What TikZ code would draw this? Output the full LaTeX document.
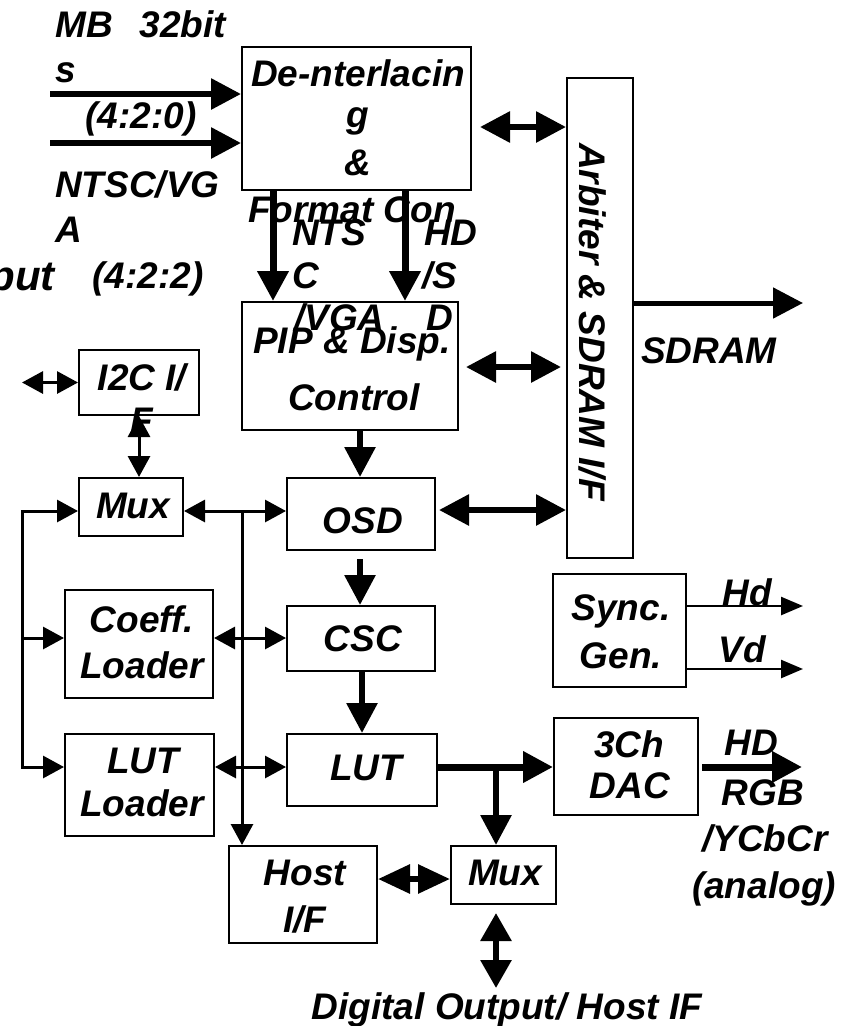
\documentclass[tikz,border=0pt]{standalone}
\usepackage{fontspec}
\setmainfont{Liberation Sans}
\usetikzlibrary{arrows.meta}
\begin{document}
\begin{tikzpicture}[x=1pt,y=-1pt,
  box/.style={draw,line width=2pt,inner sep=0pt},
  txt/.style={font=\fontsize{37}{44}\selectfont\bfseries\itshape,inner sep=0pt,anchor=base},
  big/.style={line width=6pt,-{Triangle[length=30pt,width=30pt]}},
  bigd/.style={line width=6pt,{Triangle[length=30pt,width=30pt]}-{Triangle[length=30pt,width=30pt]}},
  thin/.style={line width=3pt,-{Triangle[length=21pt,width=22pt]}},
  thind/.style={line width=3pt,{Triangle[length=21pt,width=22pt]}-{Triangle[length=21pt,width=22pt]}},
  sig/.style={line width=2.5pt,-{Triangle[length=22pt,width=18pt]}},
]
\useasboundingbox[fill=white] (0,0) rectangle (850,1026);

% boxes
\node[box,minimum width=229pt,minimum height=143pt] (deint) at (356.5,118.5) {};
\node[box,minimum width=66pt,minimum height=480pt] (arb) at (600,318) {};
\node[box,minimum width=216pt,minimum height=128pt] (pip) at (350,366) {};
\node[box,minimum width=120pt,minimum height=65pt] (i2c) at (139,382.5) {};
\node[box,minimum width=104pt,minimum height=58pt] (mux1) at (131,507) {};
\node[box,minimum width=148pt,minimum height=72pt] (osd) at (361,514) {};
\node[box,minimum width=148pt,minimum height=108pt] (coeff) at (139,644) {};
\node[box,minimum width=148pt,minimum height=65pt] (csc) at (361,638.5) {};
\node[box,minimum width=149pt,minimum height=102pt] (lutl) at (139.5,785) {};
\node[box,minimum width=150pt,minimum height=72pt] (lut) at (362,770) {};
\node[box,minimum width=144pt,minimum height=97pt] (dac) at (626,766.5) {};
\node[box,minimum width=148pt,minimum height=97pt] (host) at (303,894.5) {};
\node[box,minimum width=105pt,minimum height=58pt] (mux2) at (503.5,875) {};
\node[box,minimum width=133pt,minimum height=113pt] (sync) at (619.5,630.5) {};

% coordinates
\coordinate (in1) at (50,94);
\coordinate (in2) at (50,143);
\coordinate (r127) at (0,127);
\coordinate (r367) at (0,367);
\coordinate (r510) at (0,510);
\coordinate (d1) at (273,0);
\coordinate (d2) at (405,0);
\coordinate (c360) at (360,0);
\coordinate (c362) at (362,0);
\coordinate (sdr) at (803,303);
\coordinate (r767) at (0,767);
\coordinate (j) at (496,767);
\coordinate (r879) at (0,879);
\coordinate (dout) at (496,988);
\coordinate (aout) at (802,767);
\coordinate (hd) at (803,606);
\coordinate (vd) at (803,669);
\coordinate (i2cl) at (22,382.5);
\coordinate (c139) at (139,0);
\coordinate (lb1) at (22,511);
\coordinate (lb2) at (22,638);
\coordinate (lb3) at (22,767);
\coordinate (mb1) at (242,511);
\coordinate (mb2) at (242,638);
\coordinate (mb3) at (242,767);

% connectors
\draw[big] (in1) -- (in1 -| deint.west);
\draw[big] (in2) -- (in2 -| deint.west);
\draw[bigd,shorten <=8pt] (deint.east |- r127) -- (arb.west |- r127);
\draw[big,line width=7pt] (deint.south -| d1) -- (pip.north -| d1);
\draw[big,line width=7pt] (deint.south -| d2) -- (pip.north -| d2);
\draw[bigd,shorten <=7pt,shorten >=5pt] (pip.east |- r367) -- (arb.west |- r367);
\draw[bigd,shorten <=3pt] (osd.east |- r510) -- (arb.west |- r510);
\draw[big,line width=5pt] (arb.east |- sdr) -- (sdr);
\draw[big] (pip.south -| c360) -- (osd.north -| c360);
\draw[big,shorten <=8pt] (osd.south -| c360) -- (csc.north -| c360);
\draw[big] (csc.south -| c362) -- (lut.north -| c362);
\draw[big,line width=7pt] (lut.east |- r767) -- (dac.west |- r767);
\draw[big] (j) -- (j |- mux2.north);
\draw[line width=6pt,{Triangle[length=32pt,width=28pt]}-{Triangle[length=32pt,width=28pt]}] (host.east |- r879) -- (mux2.west |- r879);
\draw[line width=6pt,{Triangle[length=28pt,width=30pt]}-{Triangle[length=28pt,width=30pt]},shorten <=8pt] (mux2.south -| dout) -- (dout);
\draw[big,line width=7pt,shorten <=3pt] (dac.east |- r767) -- (aout);
\draw[sig] (sync.east |- hd) -- (hd);
\draw[sig] (sync.east |- vd) -- (vd);
\draw[thind] (i2cl) -- (i2c.west);
\draw[thind] (i2c.south -| c139) -- (mux1.north -| c139);
\draw[thin] (lb3) -- (lb1) -- (mux1.west |- lb1);
\draw[thin] (lb1) -- (lb3) -- (lutl.west |- lb3);
\draw[thin] (lb2) -- (coeff.west |- lb2);
\draw[thind] (mux1.east |- mb1) -- (osd.west |- mb1);
\draw[thin] (mb1) -- (mb1 |- host.north);
\draw[thind] (coeff.east |- mb2) -- (csc.west |- mb2);
\draw[thind] (lutl.east |- mb3) -- (lut.west |- mb3);

% texts
\node[txt,anchor=base west] (t1) at (55,37) {MB\hspace{27pt}32bit};
\node[txt,anchor=base west] (t2) at (55,82) {s};
\node[txt] (t3) at (141,128) {(4:2:0)};
\node[txt,anchor=base west] (t4) at (55,197) {NTSC/VG};
\node[txt,anchor=base west] (t5) at (55,242) {A};
\node[txt] (t6) at (148,288) {(4:2:2)};
\node[txt,anchor=base east,font=\fontsize{42}{48}\selectfont\bfseries\itshape] (t7) at (55,290) {Input};
\node[txt] (dt1) at (358,86) {De-nterlacin};
\node[txt] (dt2) at (358,127) {g};
\node[txt] (dt3) at (358,175) {\&};
\node[txt] (dt4) at (352,222) {Format Con};
\node[txt,anchor=base west] (n1) at (292,245) {NTS};
\node[txt,anchor=base west] (n2) at (292,288) {C};
\node[txt,anchor=base west] (n3) at (294,330) {/VGA};
\node[txt,anchor=base west] (h1) at (424,245) {HD};
\node[txt,anchor=base west] (h2) at (422,288) {/S};
\node[txt,anchor=base west] (h3) at (426,330) {D};
\node[txt] (p1) at (352,353) {PIP \& Disp.};
\node[txt] (p2) at (354,410) {Control};
\node[txt,anchor=center,rotate=-90,text height=25pt,text depth=0pt] (arbt) at (592,322) {Arbiter \& SDRAM I/F};
\node[txt] (sd) at (709,363) {SDRAM};
\node[txt] (i1) at (142,390) {I2C I/};
\node[txt] (i2) at (142,433) {F};
\node[txt] (m1) at (133,518) {Mux};
\node[txt] (o1) at (363,533) {OSD};
\node[txt] (co1) at (142,632) {Coeff.};
\node[txt] (co2) at (142,678) {Loader};
\node[txt] (cs1) at (363,651) {CSC};
\node[txt] (ll1) at (143,773) {LUT};
\node[txt] (ll2) at (142,816) {Loader};
\node[txt] (lu1) at (366,780) {LUT};
\node[txt] (da1) at (629,757) {3Ch};
\node[txt] (da2) at (630,798) {DAC};
\node[txt] (ho1) at (305,885) {Host};
\node[txt] (ho2) at (305,932) {I/F};
\node[txt] (m2) at (505,885) {Mux};
\node[txt] (dig) at (507,1019) {Digital Output/ Host IF};
\node[txt] (sy1) at (621,620) {Sync.};
\node[txt] (sy2) at (621,668) {Gen.};
\node[txt] (hdl) at (747,605) {Hd};
\node[txt] (vdl) at (742,662) {Vd};
\node[txt] (o1l) at (751,755) {HD};
\node[txt] (o2l) at (763,805) {RGB};
\node[txt] (o3l) at (765,851) {/YCbCr};
\node[txt] (o4l) at (764,898) {(analog)};
\end{tikzpicture}
\end{document}
